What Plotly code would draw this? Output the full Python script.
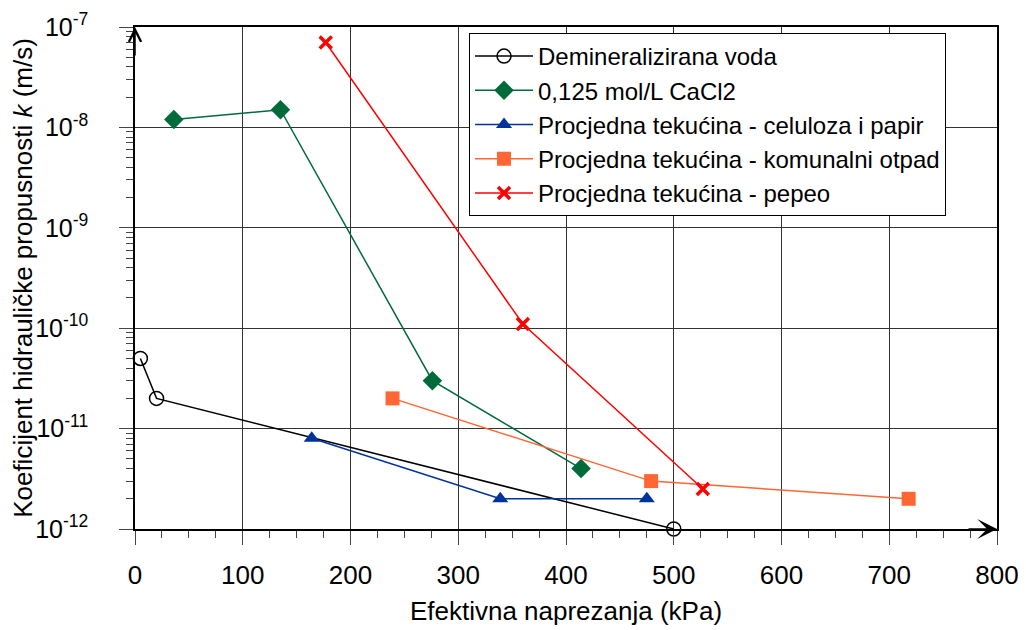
import plotly.graph_objects as go

series_names = [
    "Demineralizirana voda",
    "0,125 mol/L CaCl2",
    "Procjedna tekućina - celuloza i papir",
    "Procjedna tekućina - komunalni otpad",
    "Procjedna tekućina - pepeo",
]
demi_x = [5, 20, 500]
demi_y = [5e-11, 2e-11, 1e-12]
cacl_x = [36, 135, 276, 414]
cacl_y = [1.2e-8, 1.5e-8, 3e-11, 4e-12]
celu_x = [164, 339, 475]
celu_y = [8e-12, 2e-12, 2e-12]
kom_x = [239, 479, 718]
kom_y = [2e-11, 3e-12, 2e-12]
pep_x = [177, 360, 527]
pep_y = [7e-8, 1.1e-10, 2.5e-12]

x_ticks = [0, 100, 200, 300, 400, 500, 600, 700, 800]
y_tick_exps = [-12, -11, -10, -9, -8, -7]

FONT = "Liberation Sans, Arial, sans-serif"

fig = go.Figure()
fig.add_trace(go.Scatter(x=demi_x, y=demi_y, name=series_names[0], mode="lines+markers",
                         line=dict(color="black", width=1.5),
                         marker=dict(symbol="circle-open", size=14, color="black", line=dict(width=1.5)),
                         cliponaxis=False))
fig.add_trace(go.Scatter(x=cacl_x, y=cacl_y, name=series_names[1], mode="lines+markers",
                         line=dict(color="#006B3A", width=1.5),
                         marker=dict(symbol="diamond", size=15, color="#006B3A"),
                         cliponaxis=False))
fig.add_trace(go.Scatter(x=celu_x, y=celu_y, name=series_names[2], mode="lines+markers",
                         line=dict(color="#003399", width=1.5),
                         marker=dict(symbol="triangle-up", size=14, color="#003399"),
                         cliponaxis=False))
fig.add_trace(go.Scatter(x=kom_x, y=kom_y, name=series_names[3], mode="lines+markers",
                         line=dict(color="#FF6633", width=1.5),
                         marker=dict(symbol="square", size=14, color="#FF6633"),
                         cliponaxis=False))
fig.add_trace(go.Scatter(x=pep_x, y=pep_y, name=series_names[4], mode="lines+markers",
                         line=dict(color="#FF0000", width=1.5),
                         marker=dict(symbol="x-thin", size=12, color="#FF0000",
                                     line=dict(width=3.5, color="#FF0000")),
                         cliponaxis=False))

minor_y = [m * 10.0 ** e for e in range(-12, -7) for m in range(2, 10)]

fig.update_layout(
    width=1026, height=630,
    margin=dict(l=127, r=37, t=19, b=109),
    paper_bgcolor="white", plot_bgcolor="white",
    font=dict(family=FONT, color="black"),
    showlegend=True,
    legend=dict(x=0.3875, y=0.988, xanchor="left", yanchor="top",
                bgcolor="white", bordercolor="black", borderwidth=1,
                font=dict(size=24, family=FONT), itemwidth=58, tracegroupgap=0),
    xaxis=dict(range=[0, 800], tickvals=x_ticks, ticks="outside", ticklen=14, tickwidth=1,
               tickcolor="#444", showgrid=True, gridcolor="#333", gridwidth=1,
               showline=True, linecolor="black", linewidth=1.5, mirror=True, zeroline=False,
               automargin=False, ticklabelstandoff=8,
               tickfont=dict(size=26, family=FONT),
               minor=dict(dtick=25, ticks="outside", ticklen=7, tickcolor="#444", showgrid=False),
               title=dict(text="Efektivna naprezanja (kPa)", font=dict(size=26, family=FONT), standoff=13)),
    yaxis=dict(type="log", range=[-12, -7],
               tickvals=[10.0 ** e for e in y_tick_exps],
               ticktext=["10<sup>%d</sup>" % e for e in y_tick_exps],
               ticks="outside", ticklen=14, tickwidth=1, tickcolor="#444",
               showgrid=True, gridcolor="#333", gridwidth=1,
               showline=True, linecolor="black", linewidth=1.5, mirror=True,
               automargin=False, ticklabelstandoff=26,
               tickfont=dict(size=25, family=FONT),
               minor=dict(tickvals=minor_y, ticks="outside", ticklen=7, tickcolor="#444", showgrid=False),
               title=dict(text="Koeficijent hidrauličke propusnosti <i>k</i> (m/s)",
                          font=dict(size=26, family=FONT), standoff=5)),
)

fig.add_annotation(x=800, y=-12, xref="x", yref="y", ax=-30, ay=0, axref="pixel", ayref="pixel",
                   text="", showarrow=True, arrowhead=3, arrowsize=2.2, arrowwidth=1.5, arrowcolor="black")
fig.add_annotation(x=0, y=-7, xref="x", yref="y", ax=0, ay=30, axref="pixel", ayref="pixel",
                   text="", showarrow=True, arrowhead=5, arrowsize=1.6, arrowwidth=1.5, arrowcolor="black")

fig.write_html("out.html")
